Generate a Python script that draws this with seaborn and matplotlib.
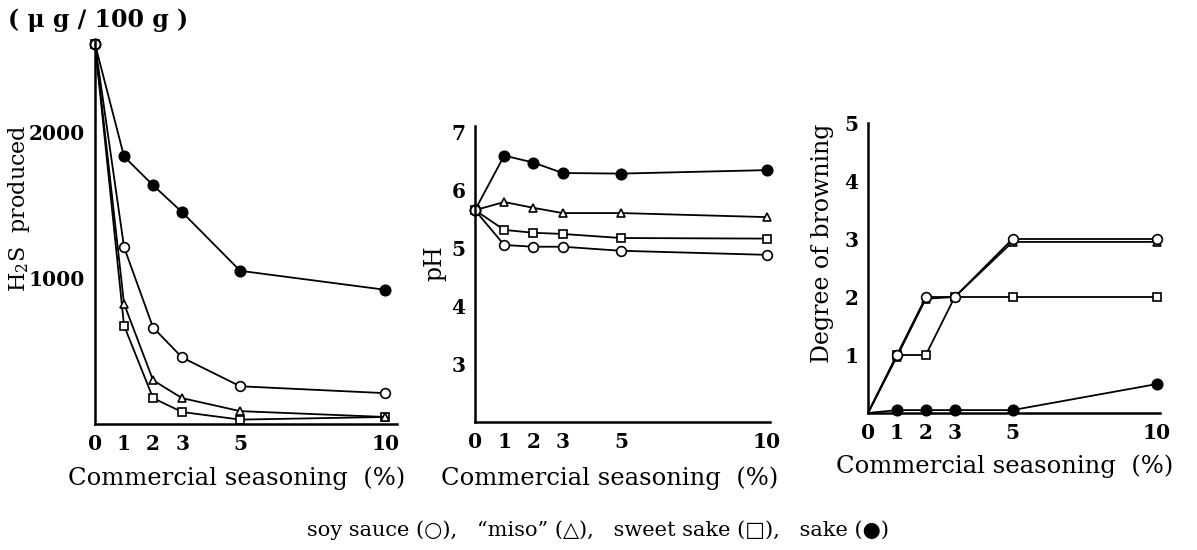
import matplotlib
matplotlib.use("Agg")
import matplotlib.pyplot as plt
import seaborn as sns
import pandas as pd

sns.set_theme(style="white")
plt.rcParams['font.family'] = ['DejaVu Serif', 'DejaVu Sans']
plt.rcParams['mathtext.fontset'] = 'dejavuserif'
plt.rcParams['text.color'] = 'black'

# ---------------- data ----------------
conc = [0, 1, 2, 3, 5, 10]
series = ["sake", "sweet sake", "miso", "soy sauce"]

h2s_soy = [2600, 1210, 660, 455, 258, 211]
h2s_miso = [2600, 823, 299, 177, 88, 48]
h2s_sweet = [2600, 673, 177, 82, 30, 48]
h2s_sake = [2600, 1830, 1633, 1449, 1048, 918]

ph_soy = [5.65, 5.05, 5.02, 5.02, 4.95, 4.88]
ph_miso = [5.65, 5.79, 5.69, 5.60, 5.60, 5.53]
ph_sweet = [5.65, 5.31, 5.26, 5.24, 5.17, 5.16]
ph_sake = [5.65, 6.59, 6.47, 6.29, 6.28, 6.34]

br_soy = [0, 1, 2, 2, 3, 3]
br_miso = [0, 0.97, 1.97, 2, 2.95, 2.95]
br_sweet = [0, 1, 1, 2, 2, 2]
br_sake = [0, 0.05, 0.05, 0.05, 0.05, 0.5]

xticks = [0, 1, 2, 3, 5, 10]
h2s_yticks = [1000, 2000]
ph_yticks = [3, 4, 5, 6, 7]
br_yticks = [1, 2, 3, 4, 5]

xlabel = "Commercial seasoning  (%)"
legend_text = "soy sauce (○),   “miso” (△),   sweet sake (□),   sake (●)"

styles = {
    "soy sauce": dict(marker="o", markerfacecolor="white", markersize=7),
    "miso": dict(marker="^", markerfacecolor="white", markersize=6),
    "sweet sake": dict(marker="s", markerfacecolor="white", markersize=6),
    "sake": dict(marker="o", markerfacecolor="black", markersize=7.5),
}

W, H = 1197, 550
fig = plt.figure(figsize=(W / 100, H / 100), dpi=100)


def ax_at(l, r, b, t):
    return fig.add_axes([l / W, (H - b) / H, (r - l) / W, (b - t) / H])


ax1 = ax_at(95, 397, 424, 41)
ax2 = ax_at(475, 770, 422, 126)
ax3 = ax_at(868, 1160, 413, 123)

panels = [
    (ax1, {"soy sauce": h2s_soy, "miso": h2s_miso, "sweet sake": h2s_sweet, "sake": h2s_sake},
     (0, 10.4), (0, 2620), h2s_yticks, None),
    (ax2, {"soy sauce": ph_soy, "miso": ph_miso, "sweet sake": ph_sweet, "sake": ph_sake},
     (0, 10.1), (2, 7.1), ph_yticks, None),
    (ax3, {"soy sauce": br_soy, "miso": br_miso, "sweet sake": br_sweet, "sake": br_sake},
     (0, 10.1), (0, 5), br_yticks, slice(1, None)),
]

for ax, vals, xl, yl, yt, mev in panels:
    for name in series:
        df = pd.DataFrame({"x": conc, "y": vals[name]})
        sns.lineplot(data=df, x="x", y="y", ax=ax, color="black", linewidth=1.3,
                     markeredgecolor="black", markeredgewidth=1.2, legend=False,
                     markevery=mev, clip_on=False, **styles[name])
    ax.set_xlim(*xl)
    ax.set_ylim(*yl)
    ax.set_xticks(xticks)
    ax.set_yticks(yt)
    ax.set_xlabel("")
    ax.set_ylabel("")
    for s in ["top", "right"]:
        ax.spines[s].set_visible(False)
    for s in ["left", "bottom"]:
        ax.spines[s].set_color("black")
        ax.spines[s].set_linewidth(1.8)
    ax.tick_params(axis="both", direction="out", length=2, width=1, colors="black",
                   labelsize=14.5, pad=5)
    for lab in ax.get_xticklabels() + ax.get_yticklabels():
        lab.set_fontweight("bold")
    ax.set_facecolor("none")

fig.text(19 / W, 1 - 208 / H, "H$_2$S  produced", rotation=90, ha="center", va="center", fontsize=16)
fig.text(435 / W, 1 - 263 / H, "pH", rotation=90, ha="center", va="center", fontsize=17)
fig.text(823 / W, 1 - 243 / H, "Degree of browning", rotation=90, ha="center", va="center", fontsize=17)

fig.text(237 / W, 1 - 478 / H, xlabel, ha="center", va="center", fontsize=17.5)
fig.text(610 / W, 1 - 478 / H, xlabel, ha="center", va="center", fontsize=17.5)
fig.text(1005 / W, 1 - 466 / H, xlabel, ha="center", va="center", fontsize=17.5)
fig.text(8 / W, 1 - 20 / H, "( μ g ∕ 100 g )", ha="left", va="center", fontsize=17, fontweight="bold")
fig.text(598 / W, 1 - 530 / H, legend_text, ha="center", va="center", fontsize=15)

fig.savefig("out.png", dpi=100, facecolor="white")
